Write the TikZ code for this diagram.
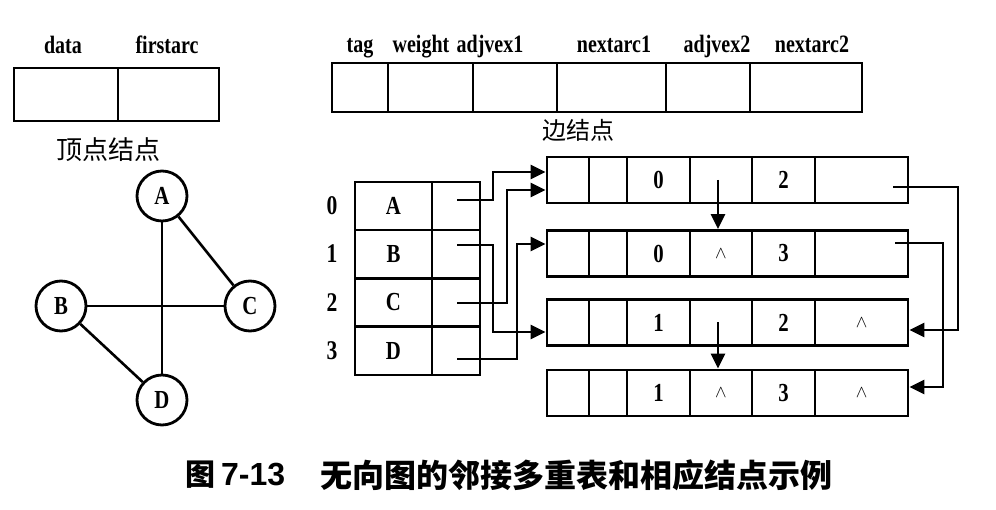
\documentclass[tikz,border=0pt]{standalone}
\usepackage{fontspec}
\setmainfont{Liberation Serif}
\newfontfamily\cjk{Noto Sans CJK SC}
\newfontfamily\capsans{Liberation Sans}
\newfontfamily\lblfont{Liberation Serif Bold}[FakeStretch=0.8]
\usetikzlibrary{arrows.meta}
\newcommand\myfs[1]{\fontsize{#1}{#1}\selectfont}
\newcommand\nullp{{\myfs{19}$\wedge$}}
\newcommand\edgerow[6]{%
  \node[cellbox,minimum width=42pt] (#1c1) at (568,#2) {};
  \node[cellbox,minimum width=38pt] (#1c2) at (608,#2) {};
  \node[cellbox,minimum width=63pt] (#1c3) at (658.5,#2) {#3};
  \node[cellbox,minimum width=62pt] (#1c4) at (721,#2) {#4};
  \node[cellbox,minimum width=63pt] (#1c5) at (783.5,#2) {#5};
  \node[cellbox,minimum width=93pt] (#1c6) at (861.5,#2) {#6};}
\tikzset{
  cellbox/.style={draw, line width=2.8pt, inner sep=0pt, minimum height=46pt, font=\lblfont\myfs{26}},
  lbl/.style={inner sep=0pt, anchor=base, font=\lblfont\myfs{25}},
  cjklbl/.style={inner sep=0pt, font=\cjk\myfs{24}},
  vtx/.style={circle, draw, line width=2.8pt, minimum size=50pt, inner sep=0pt, font=\lblfont\myfs{26}},
  gedge/.style={line width=2.6pt},
  arr/.style={line width=2.5pt, -{Triangle[length=15pt,width=14pt]}},
}
\begin{document}
\begin{tikzpicture}[x=1pt,y=-1pt]
\useasboundingbox[fill=white] (0,0) rectangle (996,510);

% vertex node template
\node[cellbox,minimum width=104pt,minimum height=53pt] (tdata) at (66,94.5) {};
\node[cellbox,minimum width=101pt,minimum height=53pt] (tfirst) at (168.5,94.5) {};
\node[lbl] (ldata) at (63,54) {data};
\node[lbl] (lfirst) at (167,54) {firstarc};
\node[cjklbl,font=\cjk\myfs{26}] (lvnode) at (108,150) {顶点结点};

% edge node template
\node[cellbox,minimum width=56pt,minimum height=49pt] (ttag) at (360,87.5) {};
\node[cellbox,minimum width=85pt,minimum height=49pt] (twt) at (430.5,87.5) {};
\node[cellbox,minimum width=84pt,minimum height=49pt] (tadj1) at (515,87.5) {};
\node[cellbox,minimum width=109pt,minimum height=49pt] (tnext1) at (611.5,87.5) {};
\node[cellbox,minimum width=84pt,minimum height=49pt] (tadj2) at (708,87.5) {};
\node[cellbox,minimum width=112pt,minimum height=49pt] (tnext2) at (806,87.5) {};
\node[lbl] (ltag) at (360,53) {tag};
\node[lbl] (lwt) at (421,53) {weight};
\node[lbl] (ladj1) at (490,53) {adjvex1};
\node[lbl] (lnext1) at (614,53) {nextarc1};
\node[lbl] (ladj2) at (717,53) {adjvex2};
\node[lbl] (lnext2) at (812,53) {nextarc2};
\node[cjklbl] (lenode) at (578,130) {边结点};

% graph
\node[vtx] (A) at (162,196) {A};
\node[vtx] (B) at (61,306) {B};
\node[vtx] (C) at (250,306) {C};
\node[vtx] (D) at (162,400) {D};
\draw[gedge] (A) -- (D);
\draw[gedge] (B) -- (C);
\draw[gedge] (A) -- (C);
\draw[gedge] (B) -- (D);

% vertex table
\foreach \n/\v/\cy in {0/A/206,1/B/254,2/C/302.5,3/D/351}{
  \node[cellbox,minimum width=77pt,minimum height=48pt] (v\v) at (393.5,\cy) {\v};
  \node[cellbox,minimum width=48pt,minimum height=48pt] (v\v p) at (456,\cy) {};
  \node[inner sep=0pt,font=\lblfont\myfs{27}] (i\v) at (332,\cy) {\n};
}

% edge nodes
\edgerow{e1}{180}{0}{}{2}{}
\edgerow{e2}{253.5}{0}{\nullp}{3}{}
\edgerow{e3}{322.5}{1}{}{2}{\nullp}
\edgerow{e4}{393}{1}{\nullp}{3}{\nullp}

% pointer starts
\coordinate (pA) at (457,200);
\coordinate (pB) at (457,245);
\coordinate (pC) at (457,303);
\coordinate (pD) at (457,359);
\coordinate (q1) at (893,187);
\coordinate (q2) at (895,243);

\draw[arr] (pA) -- ++(36,0) |- ([yshift=8pt]e1c1.west);
\draw[arr] (pC) -- ++(50,0) |- ([yshift=-10pt]e1c1.west);
\draw[arr] (pB) -- ++(36,0) |- ([yshift=-9.5pt]e3c1.west);
\draw[arr] (pD) -- ++(60,0) |- ([yshift=9.5pt]e2c1.west);

\draw[arr] ([xshift=-3pt]e1c4.center) -- ([xshift=-3pt]e2c4.north);
\draw[arr] ([xshift=-3pt]e3c4.center) -- ([xshift=-3pt]e4c4.north);

\draw[arr] (q1) -- ++(65,0) |- ([yshift=-7.5pt]e3c6.east);
\draw[arr] (q2) -- ++(48,0) |- ([yshift=6pt]e4c6.east);

% caption
\node[inner sep=0pt,font=\cjk\bfseries\myfs{30}] (cap1) at (200,475) {图};
\node[inner sep=0pt,anchor=west,font=\capsans\bfseries\myfs{32}] (cap2) at (221,475) {7-13};
\node[inner sep=0pt,anchor=west,font=\cjk\bfseries\myfs{32}] (cap3) at (320,475) {无向图的邻接多重表和相应结点示例};
\end{tikzpicture}
\end{document}
